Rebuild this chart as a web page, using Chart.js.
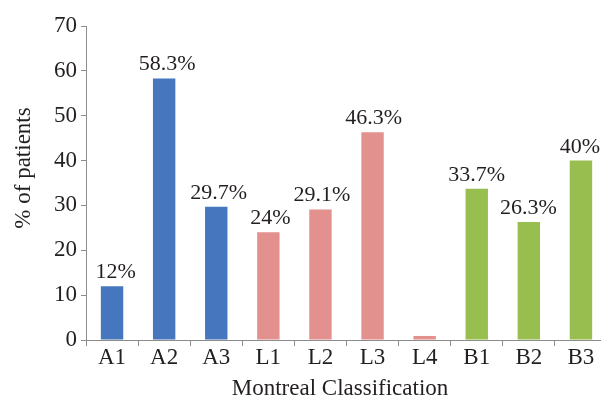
<!DOCTYPE html>
<html>
<head>
<meta charset="utf-8">
<script src="https://cdn.jsdelivr.net/npm/chart.js@4/dist/chart.umd.min.js"></script>
<style>
  html, body { margin: 0; padding: 0; background: #fff; overflow: hidden; }
  #wrap { width: 608px; height: 403px; }
</style>
</head>
<body>
<div id="wrap"><canvas id="c" width="608" height="403"></canvas></div>
<script>
// Montreal classification of patients (% per subgroup)
const categories = ['A1', 'A2', 'A3', 'L1', 'L2', 'L3', 'L4', 'B1', 'B2', 'B3'];
const percentages = [12, 58.3, 29.7, 24, 29.1, 46.3, 0.9, 33.7, 26.3, 40];
const valueLabels = ['12%', '58.3%', '29.7%', '24%', '29.1%', '46.3%', null, '33.7%', '26.3%', '40%'];
const groupColors = { A: '#4677be', L: '#e3918f', B: '#97be4f' };
const yTicks = [0, 10, 20, 30, 40, 50, 60, 70];
const xTitle = 'Montreal Classification';
const yTitle = '% of patients';

const textColor = '#231f20';
const axisColor = '#8c8c8c';
const serif = '"Liberation Serif", "Times New Roman", serif';

const barColors = categories.map(c => groupColors[c[0]]);

// value labels above the bars; nudged right near the y axis, centred at the far end
const valueLabelPlugin = {
  id: 'valueLabels',
  afterDatasetsDraw(chart) {
    const ctx = chart.ctx;
    const meta = chart.getDatasetMeta(0);
    const n = meta.data.length;
    ctx.save();
    ctx.font = '22px ' + serif;
    ctx.fillStyle = textColor;
    ctx.textAlign = 'center';
    ctx.textBaseline = 'alphabetic';
    meta.data.forEach((bar, i) => {
      const txt = valueLabels[i];
      if (!txt) return;
      const dx = 4.5 * (1 - i / (n - 1)) - 1;
      ctx.fillText(txt, bar.x + dx, bar.y - 8);
    });
    ctx.restore();
  }
};

// axis titles
const axisTitlePlugin = {
  id: 'axisTitles',
  afterDraw(chart) {
    const ctx = chart.ctx;
    ctx.save();
    ctx.font = '23px ' + serif;
    ctx.fillStyle = textColor;
    ctx.textAlign = 'center';
    ctx.textBaseline = 'middle';
    ctx.fillText(xTitle, 340, 389);
    ctx.translate(24, 168);
    ctx.rotate(-Math.PI / 2);
    ctx.fillText(yTitle, 0, 0);
    ctx.restore();
  }
};

new Chart(document.getElementById('c'), {
  type: 'bar',
  data: {
    labels: categories,
    datasets: [{
      data: percentages,
      backgroundColor: barColors,
      borderWidth: 0,
      categoryPercentage: 1,
      barPercentage: 0.43
    }]
  },
  options: {
    responsive: false,
    animation: false,
    devicePixelRatio: 1,
    layout: { padding: { top: 26, right: 1, left: 0, bottom: 0 } },
    plugins: { legend: { display: false }, tooltip: { enabled: false } },
    scales: {
      x: {
        offset: true,
        grid: { offset: true, drawOnChartArea: false, tickLength: 6, color: axisColor },
        border: { color: axisColor, width: 1 },
        ticks: { color: textColor, font: { family: serif, size: 23 }, padding: -2, maxRotation: 0 },
        afterFit(scale) { scale.height = 63; }
      },
      y: {
        min: 0, max: 70,
        afterBuildTicks(scale) { scale.ticks = yTicks.map(v => ({ value: v })); },
        grid: { drawOnChartArea: false, tickLength: 5, color: axisColor },
        border: { color: axisColor, width: 1 },
        ticks: { color: textColor, font: { family: serif, size: 23 }, padding: 4 },
        afterFit(scale) { scale.width = 86; }
      }
    }
  },
  plugins: [valueLabelPlugin, axisTitlePlugin]
});
</script>
</body>
</html>
